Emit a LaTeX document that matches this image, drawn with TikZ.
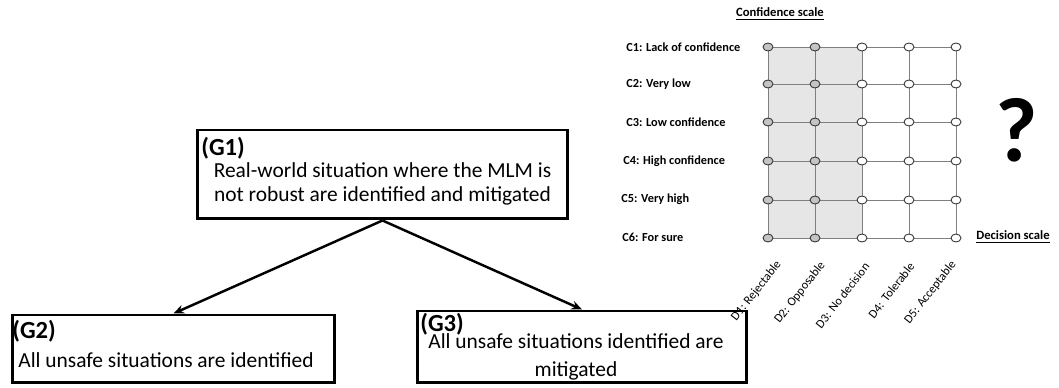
\documentclass[tikz,border=0pt]{standalone}
\usepackage{fontspec}
\setmainfont{Carlito}
\usepackage{xcolor}
\usepackage{tikz}
\usetikzlibrary{arrows.meta,positioning,calc,shapes.geometric}

\definecolor{shadegrey}{HTML}{E6E6E6}
\definecolor{dotgrey}{HTML}{C4C4C4}
\definecolor{gridgrey}{HTML}{7F7F7F}

\tikzset{
  goalbox/.style={rectangle, draw, line width=1.7pt, inner sep=0pt},
  goaltag/.style={font=\fontsize{14}{15}\selectfont\bfseries, inner sep=0pt, anchor=north west},
  goaltext/.style={font=\fontsize{12.2}{13.6}\selectfont, align=center, inner sep=0pt},
  link/.style={line width=1.4pt, -{Stealth[length=6pt,width=5pt]}},
  conflabel/.style={font=\fontsize{7}{8}\selectfont\bfseries, anchor=west, inner sep=0pt},
  declabel/.style={font=\fontsize{7}{8}\selectfont, anchor=east, rotate=52, inner sep=0pt},
  scalename/.style={font=\fontsize{7.2}{8}\selectfont\bfseries, inner sep=0pt},
  dotdark/.style={ellipse, draw=black!80, line width=0.5pt, fill=dotgrey, minimum width=0.2cm, minimum height=0.16cm, inner sep=0pt},
  dotlight/.style={ellipse, draw=black!80, line width=0.5pt, fill=white, minimum width=0.2cm, minimum height=0.16cm, inner sep=0pt},
}

\begin{document}
\begin{tikzpicture}[x=0.02cm, y=-0.02cm]
\useasboundingbox (0,0) rectangle (1059,388);

% goal tree
\node[goalbox, minimum width=7.42cm, minimum height=1.78cm] (g1) at (382.5,174.5) {};
\node[goaltag] (g1tag) at (201,137) {(G1)};
\node[goaltext] (g1text) at (382.5,184) {Real-world situation where the MLM is\\not robust are identified and mitigated};

\node[goalbox, minimum width=6.46cm, minimum height=1.36cm] (g2) at (173.5,349) {};
\node[goaltag] (g2tag) at (12,320) {(G2)};
\node[goaltext] (g2text) at (166,360) {All unsafe situations are identified};

\node[goalbox, minimum width=6.6cm, minimum height=1.44cm] (g3) at (582,347) {};
\node[goaltag] (g3tag) at (420,313) {(G3)};
\node[goaltext, font=\fontsize{12.2}{16}\selectfont] (g3text) at (576,357) {All unsafe situations identified are\\mitigated};

\draw[link] (g1.south) -- (g2.north);
\draw[link] (g1.south) -- (g3.north);

% confidence / decision grid
\fill[shadegrey] (768,47) rectangle (862,238);
\foreach \y in {47,84,122,161,200,238}
  \draw[gridgrey, line width=0.5pt] (768,\y) -- (956,\y);
\foreach \x in {768,815,862,909,956}
  \draw[gridgrey, line width=0.5pt] (\x,47) -- (\x,238);

\foreach \y [count=\r] in {47,84,122,161,200,238} {
  \foreach \x [count=\c] in {768,815} \node[dotdark] (p\r\c) at (\x,\y) {};
  \foreach \x [count=\c from 3] in {862,909,956} \node[dotlight] (p\r\c) at (\x,\y) {};
}

\node[scalename] (confscale) at (780,14) {\underline{Confidence scale}};
\node[scalename] (decscale) at (1013,237) {\underline{Decision scale}};

\node[conflabel] (c1) at (626,47) {C1: Lack of confidence};
\node[conflabel] (c2) at (626,84) {C2: Very low};
\node[conflabel] (c3) at (626,122) {C3: Low confidence};
\node[conflabel] (c4) at (623,161) {C4: High confidence};
\node[conflabel] (c5) at (621,199) {C5: Very high};
\node[conflabel] (c6) at (622,237) {C6: For sure};

\node[declabel] (d1) at (779,262) {D1: Rejectable};
\node[declabel] (d2) at (823,263) {D2: Opposable};
\node[declabel] (d3) at (867,264) {D3: No decision};
\node[declabel] (d4) at (912,264) {D4: Tolerable};
\node[declabel] (d5) at (954,262) {D5: Acceptable};

\node[font=\fontsize{52}{52}\selectfont\bfseries, inner sep=0pt] (qmark) at (1017,130) {?};
\end{tikzpicture}
\end{document}
